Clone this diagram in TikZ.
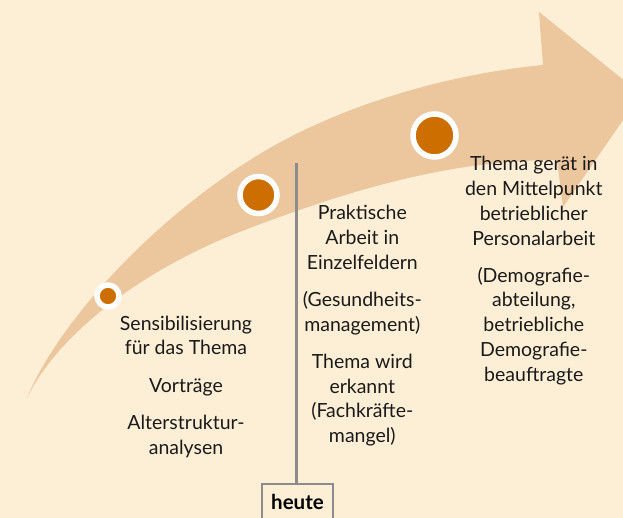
\documentclass[tikz,border=0pt]{standalone}
\usepackage{fontspec}
\setmainfont{Lato}
\begin{document}
\begin{tikzpicture}[x=1pt,y=-1pt,
  dot/.style={circle,fill=dotc,draw=white,line width=#1,inner sep=0},
  lbl/.style={align=center,anchor=base,inner sep=0,text=txtc,font=\fontsize{19.5}{24.7}\selectfont},
  heutebox/.style={draw=linec,line width=2pt,fill=bgc,anchor=north,minimum width=71pt,
    text height=14pt,text depth=30pt,inner ysep=11pt,inner xsep=0,text=black,font=\fontsize{20.5}{22}\selectfont\bfseries},
  ]
\definecolor{bgc}{HTML}{FDEED6}
\definecolor{arrc}{HTML}{ECC69D}
\definecolor{dotc}{HTML}{CC6E00}
\definecolor{linec}{HTML}{8C8C8C}
\definecolor{txtc}{HTML}{1A1A1A}
\useasboundingbox (0,0) rectangle (623,518);
\clip (0,0) rectangle (623,518);
\fill[bgc] (0,0) rectangle (623,518);
% big arrow
\fill[arrc] (27,398) .. controls (55,330) and (140,230) .. (250,160)
  .. controls (330,109) and (440,75) .. (543,65)
  -- (539,12) -- (641,94) -- (563,207) -- (557,160)
  .. controls (450,160) and (350,190) .. (250,228)
  .. controls (150,265) and (60,330) .. (27,398) -- cycle;
% dots
\node[dot=5.5pt,minimum size=22pt] (c1) at (108,296) {};
\node[dot=5.5pt,minimum size=37pt] (c2) at (258.5,195) {};
\node[dot=5.5pt,minimum size=43pt] (c3) at (434.5,135.5) {};
% today line
\coordinate (ltop) at (296.5,163);
\node[heutebox] (heute) at (297.5,483) {heute};
\draw[linec,line width=3pt] (ltop) -- (ltop |- heute.north);
% labels (anchor = baseline of last line)
\node[lbl] (t1) at (186,454) {Sensibilisierung\\für das Thema\\[12.5pt]Vorträge\\[12.5pt]Alterstruktur-\\analysen};
\node[lbl] (t2) at (362.3,442.5) {Praktische\\Arbeit in\\Einzelfeldern\\[12.5pt](Gesundheits-\\management)\\[12.5pt]Thema wird\\erkannt\\(Fachkräfte-\\mangel)};
\node[lbl] (t3) at (533.8,381) {Thema gerät in\\den Mittelpunkt\\betrieblicher\\Personalarbeit\\[12.5pt](Demografie-\\abteilung,\\betriebliche\\Demografie-\\beauftragte};
\end{tikzpicture}
\end{document}
